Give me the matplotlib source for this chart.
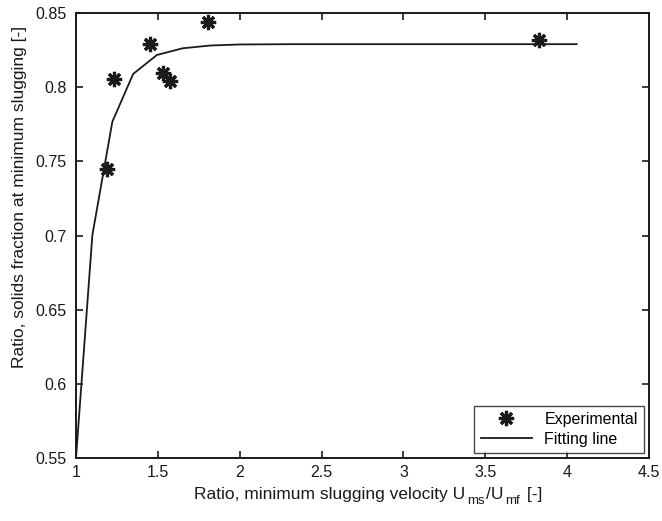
import matplotlib
matplotlib.use("Agg")
import matplotlib.pyplot as plt

# experimental points
exp_ratio = [1.19, 1.233, 1.451, 1.534, 1.573, 1.808, 3.826]
exp_solids = [0.7446, 0.8053, 0.829, 0.8097, 0.8041, 0.8441, 0.8318]

# fitted curve
fit_ratio = [1.0, 1.10, 1.222, 1.349, 1.494, 1.65, 1.82, 2.0, 2.3, 2.7, 3.2, 3.6, 4.058]
fit_solids = [0.55, 0.7003, 0.7767, 0.8089, 0.8217, 0.8262, 0.8281, 0.8288, 0.829, 0.829, 0.829, 0.829, 0.829]

x_ticks = [1, 1.5, 2, 2.5, 3, 3.5, 4, 4.5]
y_ticks = [0.55, 0.6, 0.65, 0.7, 0.75, 0.8, 0.85]

# x label pieces: (text, fontsize, shift in px, gap before in px)
xlabel_parts = [("Ratio, minimum slugging velocity U", 12.5, 0, 0),
                ("ms", 9.5, -5, 2),
                ("/U", 12.5, 0, 1),
                ("mf", 9.5, -5, 2),
                (" [-]", 12.5, 0, 2)]

plt.rcParams['font.family'] = ['Liberation Sans', 'DejaVu Sans']
ink = '#1a1a1a'

fig = plt.figure(figsize=(6.62, 5.21), dpi=100)
ax = fig.add_axes([0.1148, 0.1209, 0.8656, 0.8541])

ax.plot(exp_ratio, exp_solids, linestyle='none', marker=(8, 2, 0), markersize=11,
        markeredgewidth=2.3, color=ink, label='Experimental')
ax.plot(fit_ratio, fit_solids, color=ink, linewidth=1.3, label='Fitting line')

ax.set_xlim(1, 4.5)
ax.set_ylim(0.55, 0.85)
ax.set_xticks(x_ticks)
ax.set_xticklabels([f"{t:g}" for t in x_ticks])
ax.set_yticks(y_ticks)
ax.set_yticklabels([f"{t:g}" for t in y_ticks])
ax.tick_params(direction='in', top=True, right=True, length=5, width=1.2,
               labelsize=11.5, colors=ink)
ax.tick_params(axis='x', pad=5)
ax.tick_params(axis='y', pad=7)
for s in ax.spines.values():
    s.set_linewidth(1.4)
    s.set_color(ink)

ax.set_ylabel('Ratio, solids fraction at minimum slugging [-]', fontsize=12.5, color=ink)
ax.yaxis.set_label_coords(-0.085, 0.5865)

# x label with real-size subscripts, laid out piece by piece in pixels
renderer = fig.canvas.get_renderer()
pieces = []
total = 0
for txt, size, dy, gap in xlabel_parts:
    t = fig.text(0, 0, txt, fontsize=size, color=ink, transform=None, va='baseline')
    w = t.get_window_extent(renderer).width
    pieces.append((t, w, dy, gap))
    total += w + gap
x = 368 - total / 2
base = 22
for t, w, dy, gap in pieces:
    x += gap
    t.set_position((x, base + dy))
    x += w

leg = ax.legend(loc='lower right', fontsize=11.5, frameon=True, fancybox=False,
                edgecolor=ink, borderaxespad=0.3, handlelength=3.2,
                borderpad=0.4, labelspacing=0.3)
leg.get_frame().set_linewidth(1.0)

fig.savefig('out.png', dpi=100)
